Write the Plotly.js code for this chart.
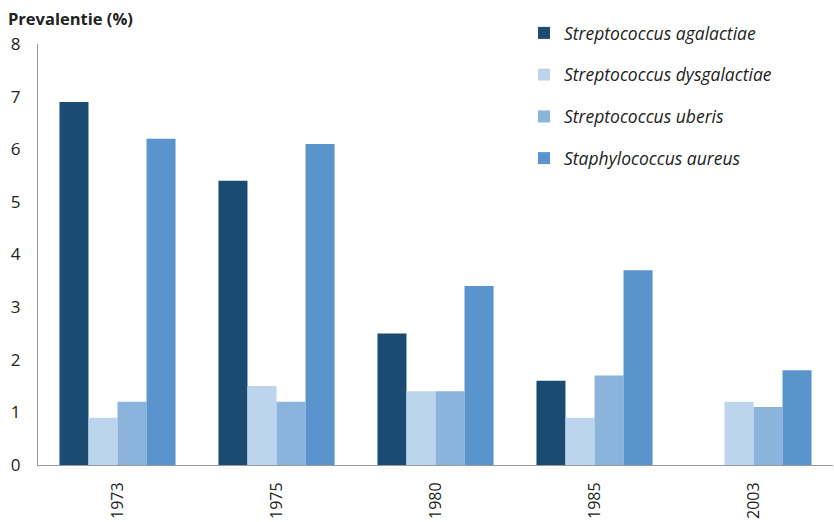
<!DOCTYPE html>
<html>
<head>
<meta charset="utf-8">
<script src="https://cdn.plot.ly/plotly-3.0.1.min.js"></script>
<style>
  html, body { margin: 0; padding: 0; background: #fff; }
  #chart { width: 834px; height: 522px; }
</style>
</head>
<body>
<div id="chart"></div>
<script>
// Prevalence of mastitis pathogens per survey year (%)
const years = ['1973', '1975', '1980', '1985', '2003'];
const agalactiae   = [6.9, 5.4, 2.5, 1.6, null];
const dysgalactiae = [0.9, 1.5, 1.4, 0.9, 1.2];
const uberis       = [1.2, 1.2, 1.4, 1.7, 1.1];
const aureus       = [6.2, 6.1, 3.4, 3.7, 1.8];

const seriesNames = [
  'Streptococcus agalactiae',
  'Streptococcus dysgalactiae',
  'Streptococcus uberis',
  'Staphylococcus aureus'
];
const seriesValues = [agalactiae, dysgalactiae, uberis, aureus];
const seriesColors = ['#1B4A72', '#BDD5EC', '#8AB4DC', '#5A94CC'];

const FONT = 'Open Sans, Lato, sans-serif';

const traces = seriesNames.map((name, i) => ({
  type: 'bar',
  name: name,
  x: years,
  y: seriesValues[i],
  marker: { color: seriesColors[i], line: { width: 0 } },
  legendgroup: 'g' + i,
  hoverinfo: 'x+y+name'
}));

const layout = {
  width: 834,
  height: 522,
  margin: { l: 38, r: 1, t: 44, b: 57, autoexpand: false },
  paper_bgcolor: '#ffffff',
  plot_bgcolor: '#ffffff',
  font: { family: FONT, size: 16, color: '#222222' },
  barmode: 'group',
  bargap: 0.27,
  bargroupgap: 0,
  showlegend: true,
  legend: {
    xref: 'container', yref: 'container',
    x: 524 / 834, y: 1 - 15 / 522,
    xanchor: 'left', yanchor: 'top',
    font: { family: FONT, size: 17.5, style: 'italic', color: '#222222' },
    tracegroupgap: 16,
    bgcolor: 'rgba(0,0,0,0)'
  },
  xaxis: {
    type: 'category',
    showgrid: false,
    showline: true,
    linecolor: '#9a9a9a',
    linewidth: 1,
    ticks: '',
    tickangle: -90,
    ticklabelstandoff: 10,
    tickfont: { family: FONT, size: 16, color: '#222222' },
    zeroline: false
  },
  yaxis: {
    range: [0, 8],
    dtick: 1,
    showgrid: false,
    showline: true,
    linecolor: '#9a9a9a',
    linewidth: 1,
    ticks: '',
    ticklabelstandoff: 13,
    tickfont: { family: FONT, size: 17, color: '#222222' },
    zeroline: false
  },
  annotations: [{
    text: '<b>Prevalentie (%)</b>',
    xref: 'paper', yref: 'paper',
    x: 0, y: 1,
    xshift: -32, yshift: 26,
    xanchor: 'left', yanchor: 'middle',
    showarrow: false,
    font: { family: FONT, size: 16.5, color: '#222222' }
  }]
};

Plotly.newPlot('chart', traces, layout, { displayModeBar: false, staticPlot: true });
</script>
</body>
</html>
